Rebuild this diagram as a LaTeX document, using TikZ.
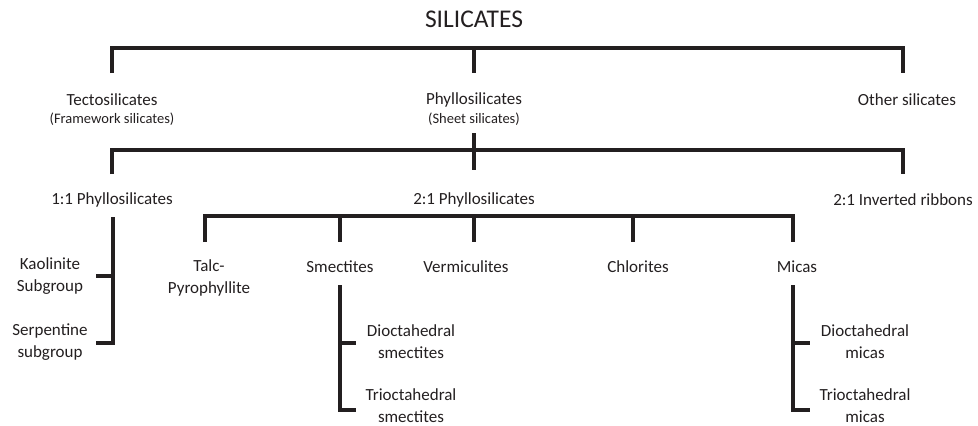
\documentclass[tikz,border=0pt]{standalone}
\usepackage{fontspec}
\setmainfont{Carlito}
\definecolor{ink}{RGB}{35,31,32}
\begin{document}
\begin{tikzpicture}[x=1pt,y=-1pt,
  line width=3.2pt, line join=miter, draw=ink,
  lbl/.style={inner sep=0pt, text=ink, align=center, font=\fontsize{17}{22}\selectfont},
  sub/.style={inner sep=0pt, text=ink, align=center, font=\fontsize{14.5}{18}\selectfont},
  ttl/.style={inner sep=0pt, text=ink, font=\fontsize{25.5}{30}\selectfont}]
\useasboundingbox (0,0) rectangle (978,426);
% nodes
\node[ttl] (silicates) at (474,19) {SILICATES};
\node[lbl] (tecto) at (112,100) {Tectosilicates};
\node[sub] (tectosub) at (112,119) {(Framework silicates)};
\node[lbl] (phyllo) at (474,100) {Phyllosilicates};
\node[sub] (phyllosub) at (474,119) {(Sheet silicates)};
\node[lbl] (other) at (907,100) {Other silicates};
\node[lbl] (p11) at (112,200) {1:1 Phyllosilicates};
\node[lbl] (p21) at (474,200) {2:1 Phyllosilicates};
\node[lbl] (inv) at (903,200) {2:1 Inverted ribbons};
\node[lbl] (kaol) at (50,276) {Kaolinite\\Subgroup};
\node[lbl] (serp) at (50,342) {Serpentine\\subgroup};
\node[lbl] (talc) at (209,278) {Talc-\\Pyrophyllite};
\node[lbl] (smec) at (340,267) {Smectites};
\node[lbl] (verm) at (466,267) {Vermiculites};
\node[lbl] (chlo) at (638,267) {Chlorites};
\node[lbl] (mica) at (797,267) {Micas};
\node[lbl] (dsmec) at (411,342) {Dioctahedral\\smectites};
\node[lbl] (tsmec) at (411,406) {Trioctahedral\\smectites};
\node[lbl] (dmica) at (865,342) {Dioctahedral\\micas};
\node[lbl] (tmica) at (865,406) {Trioctahedral\\micas};
% bar coordinates
\coordinate (a1) at (112,48); \coordinate (a2) at (474,48); \coordinate (a3) at (903,48);
\coordinate (a1d) at (112,73); \coordinate (a2d) at (474,73); \coordinate (a3d) at (903,73);
\coordinate (b1) at (112,150); \coordinate (b3) at (903,150);
\coordinate (b1d) at (112,174); \coordinate (b3d) at (903,174);
\coordinate (b2t) at (474,133); \coordinate (b2d) at (474,170);
\coordinate (c1) at (205,216); \coordinate (c5) at (793,216);
\coordinate (c1d) at (205,242); \coordinate (c2t) at (340,216); \coordinate (c2d) at (340,242);
\coordinate (c3t) at (474,216); \coordinate (c3d) at (474,242);
\coordinate (c4t) at (633,216); \coordinate (c4d) at (633,242); \coordinate (c5d) at (793,242);
\coordinate (k0) at (113,217); \coordinate (k1) at (113,276); \coordinate (k2) at (113,343);
\coordinate (k1e) at (96,276); \coordinate (k2e) at (96,343);
\coordinate (s0) at (340,285); \coordinate (s1) at (340,343); \coordinate (s2) at (340,410);
\coordinate (s1e) at (356,343); \coordinate (s2e) at (356,410);
\coordinate (m0) at (793,285); \coordinate (m1) at (793,343); \coordinate (m2) at (793,410);
\coordinate (m1e) at (810,343); \coordinate (m2e) at (810,410);
% connectors
\draw (a1d) -- (a1) -- (a3) -- (a3d);
\draw (a2) -- (a2d);
\draw (b1d) -- (b1) -- (b3) -- (b3d);
\draw (b2t) -- (b2d);
\draw (c1d) -- (c1) -- (c5) -- (c5d);
\draw (c2t) -- (c2d);
\draw (c3t) -- (c3d);
\draw (c4t) -- (c4d);
\draw (k0) -- (k2) -- (k2e);
\draw (k1) -- (k1e);
\draw (s0) -- (s2) -- (s2e);
\draw (s1) -- (s1e);
\draw (m0) -- (m2) -- (m2e);
\draw (m1) -- (m1e);
\end{tikzpicture}
\end{document}
